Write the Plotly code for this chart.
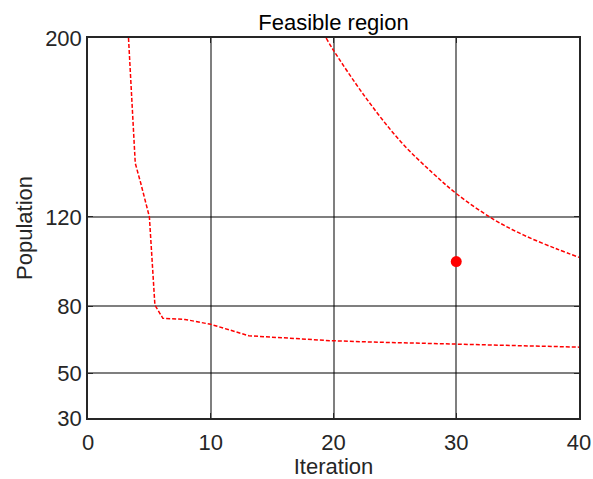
import plotly.graph_objects as go

# Lower boundary of the feasible region
lower_iter = [3.3, 3.85, 4.3, 4.9, 5.0, 5.45, 6.1, 7.9, 10.0, 13.1, 17.0, 19.7, 23.0, 30.0, 40.0]
lower_pop = [200, 144, 135, 121, 120, 80.5, 74.6, 74.1, 71.9, 66.8, 65.6, 64.6, 64.0, 63.0, 61.7]

# Upper boundary of the feasible region
upper_iter = [19.4, 20.0, 22.6, 25.5, 28.1, 30.1, 33.0, 35.5, 38.2, 40.0]
upper_pop = [200, 194.5, 173.5, 153.5, 139.5, 130.0, 119.0, 111.8, 105.6, 101.9]

# Selected operating point
point_iter = [30]
point_pop = [100]

x_ticks = [0, 10, 20, 30, 40]
y_ticks = [30, 50, 80, 120, 200]

FONT = "Liberation Sans, Arial, sans-serif"
red = "#ff0000"
ink = "#262626"

fig = go.Figure()
fig.add_trace(go.Scatter(x=lower_iter, y=lower_pop, mode="lines",
                         line=dict(color=red, width=1.5, dash="4px,2px"),
                         showlegend=False))
fig.add_trace(go.Scatter(x=upper_iter, y=upper_pop, mode="lines",
                         line_shape="spline", line_smoothing=1.0,
                         line=dict(color=red, width=1.5, dash="4px,2px"),
                         showlegend=False))
fig.add_trace(go.Scatter(x=point_iter, y=point_pop, mode="markers",
                         marker=dict(color=red, size=11),
                         showlegend=False))

axis_common = dict(
    showgrid=True, gridcolor="rgba(0,0,0,0.5)", gridwidth=1.5,
    showline=True, linecolor=ink, linewidth=1.5, mirror="ticks",
    ticks="inside", ticklen=5, tickcolor=ink, tickwidth=1,
    zeroline=False, automargin=False,
    tickfont=dict(family=FONT, size=22, color=ink),
)

fig.update_layout(
    width=593, height=479,
    margin=dict(l=88, r=14, t=38, b=61),
    paper_bgcolor="white", plot_bgcolor="white",
    title=dict(text="Feasible region", x=(88 + 579) / 2 / 593, xanchor="center",
               y=1 - 22 / 479, yanchor="middle",
               font=dict(family=FONT, size=22, color="#000000")),
    xaxis=dict(range=[0, 40], tickvals=x_ticks, ticklabelstandoff=4, **axis_common,
               title=dict(text="Iteration", standoff=6,
                          font=dict(family=FONT, size=22, color=ink))),
    yaxis=dict(range=[30, 200], tickvals=y_ticks, **axis_common,
               title=dict(text="Population", standoff=6,
                          font=dict(family=FONT, size=22, color=ink))),
)

fig.write_html("out.html")
